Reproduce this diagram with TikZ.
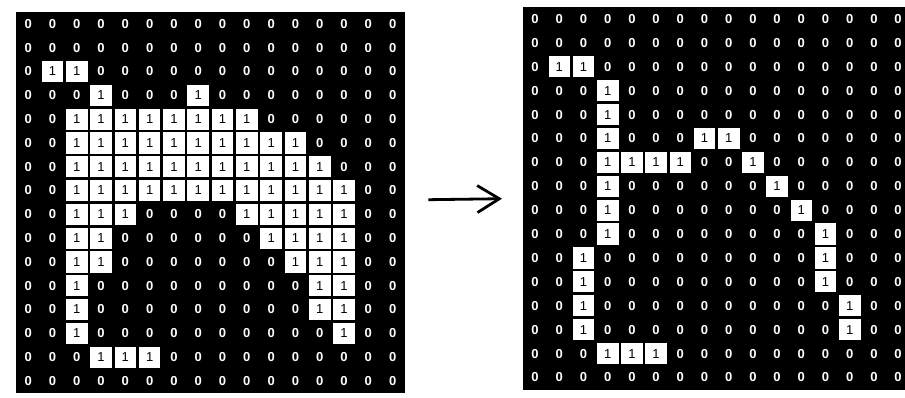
\documentclass[tikz,border=0pt]{standalone}
\usepackage{fontspec}
\setmainfont{Liberation Sans}
\usetikzlibrary{arrows.meta}

\tikzset{
  board/.style={fill=black,inner sep=0pt,anchor=north west},
  bit0/.style={text=white,inner sep=0pt,font=\bfseries\fontsize{13}{13}\selectfont},
  bit1/.style={fill=white,text=black,inner sep=0pt,minimum width=21.6pt,minimum height=21.2pt,
    font=\fontsize{13}{13}\selectfont},
}

\begin{document}
\begin{tikzpicture}[x=1pt,y=-1pt]
\useasboundingbox (0,0) rectangle (905,397);
\clip (0,0) rectangle (905,397);
% original image
\node[board,minimum width=389pt,minimum height=381pt] (left) at (16,12) {};
\begin{scope}[shift={(16,12)}]
\foreach \row [count=\r from 0] in {
  {0,0,0,0,0,0,0,0,0,0,0,0,0,0,0,0},
  {0,0,0,0,0,0,0,0,0,0,0,0,0,0,0,0},
  {0,1,1,0,0,0,0,0,0,0,0,0,0,0,0,0},
  {0,0,0,1,0,0,0,1,0,0,0,0,0,0,0,0},
  {0,0,1,1,1,1,1,1,1,1,0,0,0,0,0,0},
  {0,0,1,1,1,1,1,1,1,1,1,1,0,0,0,0},
  {0,0,1,1,1,1,1,1,1,1,1,1,1,0,0,0},
  {0,0,1,1,1,1,1,1,1,1,1,1,1,1,0,0},
  {0,0,1,1,1,0,0,0,0,1,1,1,1,1,0,0},
  {0,0,1,1,0,0,0,0,0,0,1,1,1,1,0,0},
  {0,0,1,1,0,0,0,0,0,0,0,1,1,1,0,0},
  {0,0,1,0,0,0,0,0,0,0,0,0,1,1,0,0},
  {0,0,1,0,0,0,0,0,0,0,0,0,1,1,0,0},
  {0,0,1,0,0,0,0,0,0,0,0,0,0,1,0,0},
  {0,0,0,1,1,1,0,0,0,0,0,0,0,0,0,0},
  {0,0,0,0,0,0,0,0,0,0,0,0,0,0,0,0}}
  \foreach \v [count=\c from 0] in \row
    \node[bit\v] (L-\r-\c) at ({24.3*(\c+.5)},{23.8*(\r+.5)}) {\v};
\end{scope}
% thinned image
\node[board,minimum width=390pt,minimum height=383pt] (right) at (523,7) {};
\begin{scope}[shift={(523,7)}]
\foreach \row [count=\r from 0] in {
  {0,0,0,0,0,0,0,0,0,0,0,0,0,0,0,0},
  {0,0,0,0,0,0,0,0,0,0,0,0,0,0,0,0},
  {0,1,1,0,0,0,0,0,0,0,0,0,0,0,0,0},
  {0,0,0,1,0,0,0,0,0,0,0,0,0,0,0,0},
  {0,0,0,1,0,0,0,0,0,0,0,0,0,0,0,0},
  {0,0,0,1,0,0,0,1,1,0,0,0,0,0,0,0},
  {0,0,0,1,1,1,1,0,0,1,0,0,0,0,0,0},
  {0,0,0,1,0,0,0,0,0,0,1,0,0,0,0,0},
  {0,0,0,1,0,0,0,0,0,0,0,1,0,0,0,0},
  {0,0,0,1,0,0,0,0,0,0,0,0,1,0,0,0},
  {0,0,1,0,0,0,0,0,0,0,0,0,1,0,0,0},
  {0,0,1,0,0,0,0,0,0,0,0,0,1,0,0,0},
  {0,0,1,0,0,0,0,0,0,0,0,0,0,1,0,0},
  {0,0,1,0,0,0,0,0,0,0,0,0,0,1,0,0},
  {0,0,0,1,1,1,0,0,0,0,0,0,0,0,0,0},
  {0,0,0,0,0,0,0,0,0,0,0,0,0,0,0,0}}
  \foreach \v [count=\c from 0] in \row
    \node[bit\v] (R-\r-\c) at ({24.2*(\c+.5)},{23.9*(\r+.5)}) {\v};
\end{scope}
\draw[line width=2.8pt,-{Straight Barb[length=22pt,width=27pt]}]
  ([xshift=23pt,yshift=3pt]left.east) -- ([xshift=-21pt]right.west);
\end{tikzpicture}
\end{document}
